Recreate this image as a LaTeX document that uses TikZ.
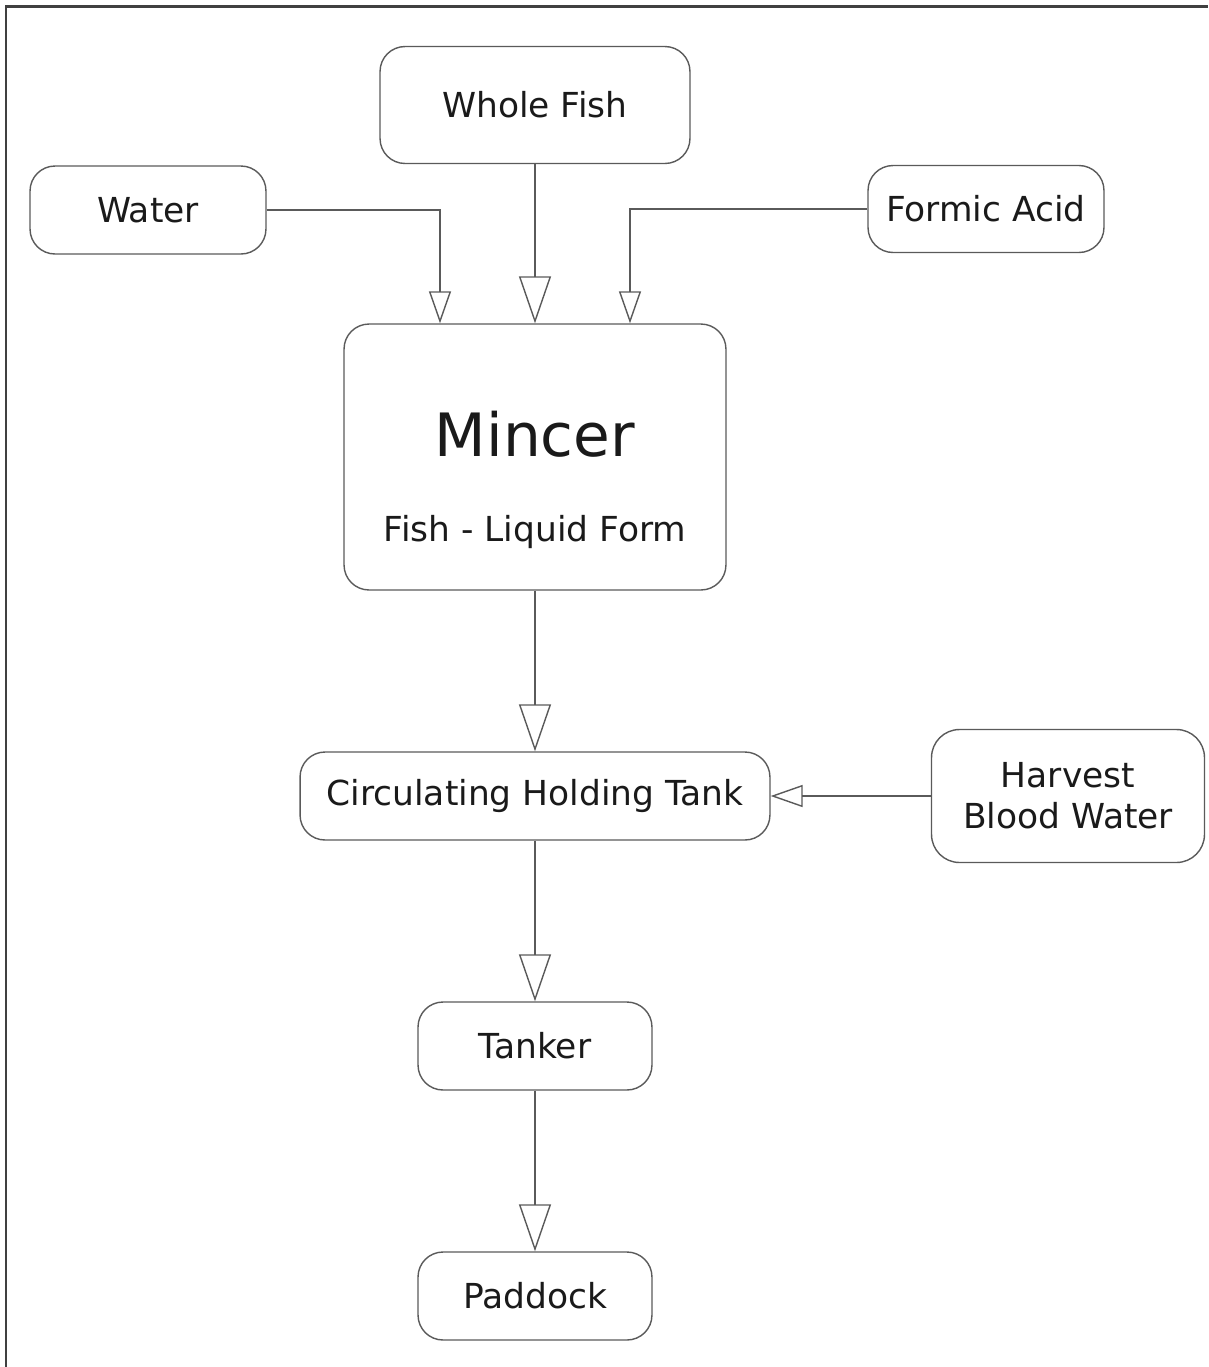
\documentclass[tikz,border=0pt]{standalone}
\usepackage{fontspec}
\setmainfont{DejaVu Sans}
\usepackage{xcolor}
\usetikzlibrary{arrows.meta,positioning}
\definecolor{edgegray}{HTML}{5A5A5A}
\definecolor{inkgray}{HTML}{1A1A1A}
\tikzset{
  box/.style={
    draw = edgegray,
    line width = 0.8pt,
    rounded corners = 0.5cm,
    text = inkgray,
    inner sep = 0pt,
    align = center,
    font = \fontsize{19.6}{23.5}\selectfont
  },
  flow/.style={
    draw = edgegray,
    line width = 0.8pt,
    -{Triangle[open,length=0.94cm,width=0.64cm]}
  },
  feed/.style={
    draw = edgegray,
    line width = 0.8pt,
    -{Triangle[open,length=0.64cm,width=0.44cm]}
  },
  frame/.style={
    draw = black!75,
    line width = 1.7pt
  }
}

\begin{document}
\begin{tikzpicture}[x=0.02cm,y=-0.02cm]
    \useasboundingbox (0,0) rectangle (1208,1367);
    \draw[frame] (6,1367) -- (6,6) -- (1208,6);
    % inputs
    \node[box, minimum width=6.2cm, minimum height=2.34cm] (fish) at (535,105) {Whole Fish};
    \node[box, minimum width=4.72cm, minimum height=1.76cm] (water) at (148,210) {Water};
    \node[box, minimum width=4.72cm, minimum height=1.74cm] (acid) at (986,209) {Formic Acid};
    % mincer
    \node[box, minimum width=7.64cm, minimum height=5.32cm] (mincer) at (535,457) {};
    \node[text=inkgray, font=\fontsize{34}{40}\selectfont] (mincertitle) at (535,434) {Mincer};
    \node[text=inkgray, font=\fontsize{19.6}{23.5}\selectfont] (mincerform) at (535,532) {Fish - Liquid Form};
    % tank line
    \node[box, minimum width=9.4cm, minimum height=1.76cm] (tank) at (535,796) {Circulating Holding Tank};
    \node[box, minimum width=5.46cm, minimum height=2.66cm, rounded corners=0.56cm] (blood) at (1068,796) {Harvest\\Blood Water};
    \node[box, minimum width=4.68cm, minimum height=1.76cm] (tanker) at (535,1046) {Tanker};
    \node[box, minimum width=4.68cm, minimum height=1.76cm] (paddock) at (535,1296) {Paddock};
    \coordinate (waterin) at (440,0 |- mincer.north);
    \coordinate (acidin) at (630,0 |- mincer.north);
    % connectors
    \draw[feed] (water.east) -| (waterin);
    \draw[feed] (acid.west) -| (acidin);
    \draw[flow] (fish.south) -- (mincer.north);
    \draw[flow] (mincer.south) -- (tank.north);
    \draw[feed] (blood.west) -- (tank.east);
    \draw[flow] (tank.south) -- (tanker.north);
    \draw[flow] (tanker.south) -- (paddock.north);
\end{tikzpicture}
\end{document}
